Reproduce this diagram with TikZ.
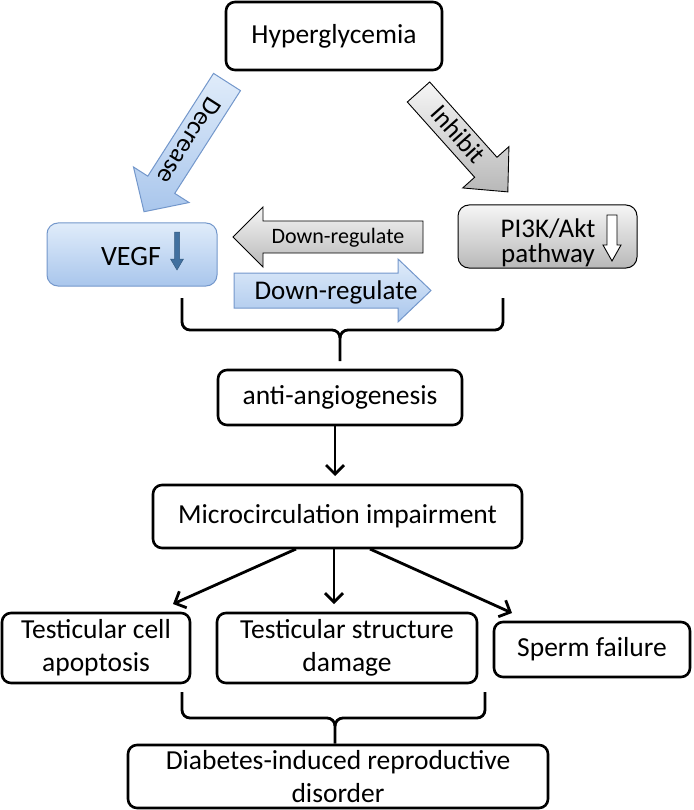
\documentclass[tikz,border=0pt]{standalone}
\usepackage{fontspec}
\setmainfont{Carlito}
\usetikzlibrary{arrows.meta,calc}
\definecolor{bluelight}{HTML}{E0ECFA}
\definecolor{bluedark}{HTML}{A9C6EC}
\definecolor{blueedge}{HTML}{7397CB}
\definecolor{graylight}{HTML}{F6F6F6}
\definecolor{graydark}{HTML}{B8B8B8}
\definecolor{vegfarrow}{HTML}{41709F}
\begin{document}
\begin{tikzpicture}[x=1pt,y=1pt,
  box/.style={draw, line width=2.6pt, rounded corners=9pt, align=center,
    font=\fontsize{27.5}{33}\selectfont, inner sep=0pt},
  arr/.style={line width=2.8pt, -{Straight Barb[length=9pt,width=18pt]}},
  bracepath/.style={line width=2.8pt},
  bluearrow/.style={draw=blueedge, line width=1pt, top color=bluelight, bottom color=bluedark},
  grayarrow/.style={draw=black, line width=0.9pt, top color=graylight, bottom color=graydark},
  arrowtext/.style={font=\fontsize{26}{28}\selectfont, transform shape, inner sep=0pt}
]
\useasboundingbox (0,0) rectangle (693,-810);

% main boxes
\node[box, minimum width=216pt, minimum height=68pt] (hyper) at (334,-36) {Hyperglycemia};
\node[box, minimum width=244pt, minimum height=55pt] (anti) at (340,-397.5) {anti-angiogenesis};
\node[box, minimum width=369pt, minimum height=63pt] (micro) at (337.5,-516.5) {Microcirculation impairment};
\node[box, minimum width=188pt, minimum height=70pt] (tcell) at (96,-648) {Testicular cell\\apoptosis};
\node[box, minimum width=260pt, minimum height=70pt] (tstruct) at (347,-648) {Testicular structure\\damage};
\node[box, minimum width=196pt, minimum height=55pt] (sperm) at (592,-649.5) {Sperm failure};
\node[box, minimum width=420pt, minimum height=63pt] (diab) at (338,-776.5) {Diabetes-induced reproductive\\disorder};

% VEGF box
\node[draw=blueedge, line width=1pt, rounded corners=11pt, top color=bluelight,
  bottom color=bluedark, minimum width=170pt, minimum height=63pt] (vegf) at (132,-254.5) {};
\node[font=\fontsize{28}{30}\selectfont, anchor=base, inner sep=0pt] (vegftxt) at (131,-265) {VEGF};
\draw[vegfarrow!80!black, fill=vegfarrow, line width=0.5pt]
  (174.5,-232) -- (179.5,-232) -- (179.5,-259) -- (183.5,-259) -- (177,-270)
  -- (170.5,-259) -- (174.5,-259) -- cycle;

% PI3K box
\node[draw, line width=1pt, rounded corners=11pt, top color=graylight,
  bottom color=graydark, minimum width=179pt, minimum height=63pt] (pi3k) at (547.5,-236.5) {};
\node[font=\fontsize{27}{25}\selectfont, align=center, inner sep=0pt] (pi3ktxt) at (548,-243) {PI3K/Akt\\pathway};
\draw[fill=white, line width=0.9pt]
  (607,-215) -- (617,-215) -- (617,-245) -- (621,-245) -- (612,-261)
  -- (603,-245) -- (607,-245) -- cycle;

% Decrease arrow
\begin{scope}[shift={(227,-82)}, rotate=-122.6]
  \path[bluearrow] (0,16) -- (122,16) -- (122,33) -- (154,0) -- (122,-33) -- (122,-16) -- (0,-16) -- cycle;
  \node[arrowtext] (decr) at (70,0) {Decrease};
\end{scope}

% Inhibit arrow
\begin{scope}[shift={(418.5,-92)}, rotate=-48.2]
  \path[grayarrow] (0,15) -- (101,15) -- (101,31) -- (134,0) -- (101,-31) -- (101,-15) -- (0,-15) -- cycle;
  \node[arrowtext] (inhib) at (58,2) {Inhibit};
\end{scope}

% Down-regulate arrows
\path[grayarrow] (423,-221) -- (263,-221) -- (263,-207) -- (233,-237) -- (263,-267) -- (263,-253) -- (423,-253) -- cycle;
\node[font=\fontsize{22}{24}\selectfont, inner sep=0pt] (dr1) at (338,-238) {Down-regulate};
\path[bluearrow] (234,-273) -- (398,-273) -- (398,-259) -- (431,-290.5) -- (398,-322) -- (398,-308) -- (234,-308) -- cycle;
\node[font=\fontsize{27}{29}\selectfont, inner sep=0pt] (dr2) at (336,-292) {Down-regulate};

% brace 1
\coordinate (b1l) at (182,-298);
\coordinate (b1r) at (503,-298);
\coordinate (b1s) at (340,-361);
\draw[bracepath] (b1l) -- (182,-322) arc[start angle=180, end angle=270, radius=8]
  -- (332,-330) arc[start angle=90, end angle=0, radius=8] -- (b1s);
\draw[bracepath] (b1r) -- (503,-322) arc[start angle=0, end angle=-90, radius=8]
  -- (348,-330) arc[start angle=90, end angle=180, radius=8];

% arrows
\coordinate (a1) at (335,-425);
\coordinate (a2) at (335,-476);
\draw[arr] (a1) -- (a2);
\coordinate (m1) at (296,-549);
\coordinate (t1) at (173,-604);
\coordinate (m2) at (334,-549);
\coordinate (t2) at (334,-604);
\coordinate (m3) at (370,-549);
\coordinate (t3) at (512,-613);
\draw[arr] (m1) -- (t1);
\draw[arr] (m2) -- (t2);
\draw[arr] (m3) -- (t3);

% brace 2
\coordinate (b2l) at (182,-692);
\coordinate (b2r) at (485,-692);
\draw[bracepath] (b2l) -- (182,-710) arc[start angle=180, end angle=270, radius=8]
  -- (327,-718) arc[start angle=90, end angle=0, radius=8] -- (diab.north -| 335,0);
\draw[bracepath] (b2r) -- (485,-710) arc[start angle=0, end angle=-90, radius=8]
  -- (343,-718) arc[start angle=90, end angle=180, radius=8];
\end{tikzpicture}
\end{document}
